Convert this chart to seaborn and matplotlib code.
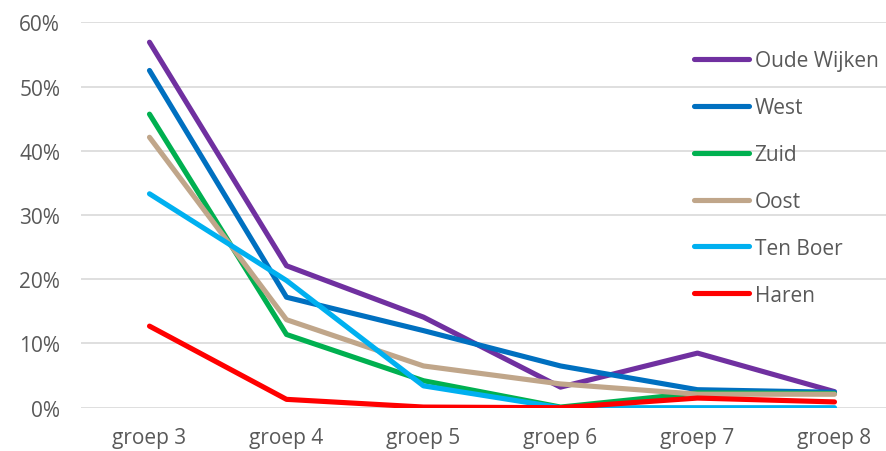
import matplotlib
matplotlib.use("Agg")
import matplotlib.pyplot as plt
import matplotlib.ticker as mticker
import pandas as pd
import seaborn as sns

groepen = ["groep 3", "groep 4", "groep 5", "groep 6", "groep 7", "groep 8"]
regions = ["Oude Wijken", "West", "Zuid", "Oost", "Ten Boer", "Haren"]

oude_wijken = [56.9, 22.1, 14.1, 3.2, 8.5, 2.5]
west = [52.5, 17.2, 12.0, 6.5, 2.8, 2.4]
zuid = [45.7, 11.4, 4.2, 0.1, 2.3, 2.2]
oost = [42.1, 13.7, 6.5, 3.7, 2.1, 2.1]
ten_boer = [33.3, 19.8, 3.4, 0.0, 0.0, 0.0]
haren = [12.7, 1.3, 0.1, 0.0, 1.5, 0.9]

colors = ["#7030A0", "#0070C0", "#00B050", "#C0A68A", "#00B0F0", "#FF0000"]

series = [oude_wijken, west, zuid, oost, ten_boer, haren]
df = pd.DataFrame(
    [(g, r, v / 100) for r, vals in zip(regions, series) for g, v in zip(groepen, vals)],
    columns=["groep", "regio", "aandeel"],
)

sns.set_style("white")
plt.rcParams["font.family"] = ["Open Sans", "DejaVu Sans"]

fig = plt.figure(figsize=(8.86, 4.52), dpi=100)
ax = fig.add_axes([81 / 886, (452 - 408.7) / 452, 1 - 81 / 886, (408.7 - 23.3) / 452])

sns.lineplot(
    data=df, x="groep", y="aandeel", hue="regio", hue_order=regions,
    palette=colors, sort=False, linewidth=3.7, ax=ax,
    solid_capstyle="round", solid_joinstyle="round",
)

ax.set_ylim(0, 0.6)
ax.set_xlim(-0.5, 5.376)
ax.yaxis.set_major_locator(mticker.MultipleLocator(0.1))
ax.yaxis.set_major_formatter(mticker.PercentFormatter(1.0, decimals=0))
ax.grid(axis="y", color="#D9D9D9", linewidth=1.2)
ax.set_axisbelow(True)
for s in ax.spines.values():
    s.set_visible(False)
ax.set_xlabel("")
ax.set_ylabel("")
ax.tick_params(axis="both", length=0, labelsize=15, labelcolor="#595959")
ax.tick_params(axis="y", pad=15)
ax.tick_params(axis="x", pad=14)

ax.legend(
    loc="upper left", bbox_to_anchor=(686 / 886, 1 - 43 / 452), bbox_transform=fig.transFigure,
    frameon=False, fontsize=15, labelcolor="#595959",
    handlelength=2.64, handletextpad=0.25, labelspacing=1.24, borderaxespad=0,
)

fig.savefig("out.png", dpi=100)
